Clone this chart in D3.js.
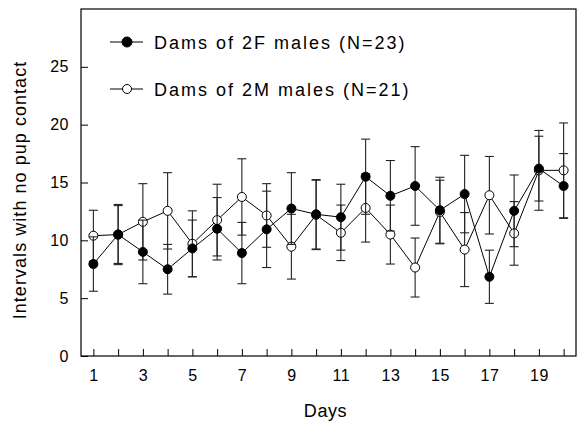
<!DOCTYPE html>
<html>
<head>
<meta charset="utf-8">
<script src="https://cdn.jsdelivr.net/npm/d3@7"></script>
<style>
    body { margin: 0; background: #fff; }
    text { font-family: "Liberation Sans", Arial, sans-serif; fill: #000; }
</style>
</head>
<body>
<svg id="chart" width="578" height="422"></svg>
<script>
// days on the x axis
var days = [1, 2, 3, 4, 5, 6, 7, 8, 9, 10, 11, 12, 13, 14, 15, 16, 17, 18, 19, 20];

// dams of 2F males, mean and error
var femMean = [7.95, 10.5, 9.0, 7.5, 9.3, 11.0, 8.9, 10.95, 12.75, 12.25, 12.0, 15.5, 13.85, 14.7, 12.6, 14.0, 6.85, 12.55, 16.2, 14.7];
var femErr = [2.35, 2.5, 2.75, 2.15, 2.45, 2.7, 2.65, 3.3, 3.1, 3.0, 2.85, 3.25, 3.05, 3.4, 2.85, 3.35, 2.3, 3.1, 2.8, 2.8];

// dams of 2M males, mean and error
var malMean = [10.4, 10.5, 11.6, 12.55, 9.7, 11.75, 13.75, 12.15, 9.45, 12.2, 10.65, 12.8, 10.5, 7.65, 12.45, 9.2, 13.9, 10.6, 16.05, 16.05];
var malErr = [2.2, 2.6, 3.3, 3.3, 2.85, 3.1, 3.3, 2.75, 2.8, 3.0, 2.4, 2.95, 2.55, 2.55, 2.75, 3.2, 3.35, 2.75, 3.45, 4.1];

var xTicks = [1, 3, 5, 7, 9, 11, 13, 15, 17, 19];
var yTicks = [0, 5, 10, 15, 20, 25];
var legendLabels = ["Dams of 2F males (N=23)", "Dams of 2M males (N=21)"];

var svg = d3.select("#chart");
var mLeft = 81, mRight = 576, mTop = 9, mBottom = 356;

var x = d3.scaleLinear().domain([0.5, 20.5]).range([mLeft, mRight]);
var y = d3.scaleLinear().domain([0, 30]).range([mBottom, mTop]);

// frame
svg.append("rect")
    .attr("x", mLeft)
    .attr("y", mTop)
    .attr("width", mRight - mLeft)
    .attr("height", mBottom - mTop)
    .attr("fill", "none")
    .attr("stroke", "#000")
    .attr("stroke-width", 1.2);

// axes, ticks point inward
var xAxis = svg.append("g")
    .attr("transform", "translate(0," + mBottom + ")")
    .call(d3.axisBottom(x).tickValues(days).tickSizeInner(-7).tickSizeOuter(0)
        .tickFormat(function (d) { return xTicks.indexOf(d) >= 0 ? d : ""; }));
xAxis.select(".domain").remove();
xAxis.selectAll("text").attr("y", 14).attr("dy", "0.71em")
    .style("font-size", "16px").attr("letter-spacing", "0.5px");

var yAxis = svg.append("g")
    .attr("transform", "translate(" + mLeft + ",0)")
    .call(d3.axisLeft(y).tickValues(yTicks).tickSizeInner(-7).tickSizeOuter(0));
yAxis.select(".domain").remove();
yAxis.selectAll("text").attr("x", -12)
    .style("font-size", "16px").attr("letter-spacing", "0.5px");
svg.selectAll(".tick line").attr("stroke", "#000");

// axis titles
svg.append("text")
    .attr("x", (mLeft + mRight) / 2 - 3)
    .attr("y", 417)
    .attr("text-anchor", "middle")
    .style("font-size", "18px")
    .attr("letter-spacing", "0.6px")
    .text("Days");

svg.append("text")
    .attr("transform", "translate(26," + 190 + ") rotate(-90)")
    .attr("text-anchor", "middle")
    .style("font-size", "18px")
    .attr("letter-spacing", "1.05px")
    .text("Intervals with no pup contact");

function drawSeries(means, errs, filled) {
    var g = svg.append("g");
    var line = d3.line()
        .x(function (d, i) { return x(days[i]); })
        .y(function (d) { return y(d); });

    // error bars
    for (var i = 0; i < means.length; i++) {
        var cx = x(days[i]);
        var y1 = y(means[i] - errs[i]);
        var y2 = y(means[i] + errs[i]);
        g.append("line").attr("x1", cx).attr("x2", cx).attr("y1", y1).attr("y2", y2)
            .attr("stroke", "#222").attr("stroke-width", 1.1);
        g.append("line").attr("x1", cx - 4.5).attr("x2", cx + 4.5).attr("y1", y1).attr("y2", y1)
            .attr("stroke", "#222").attr("stroke-width", 1.1);
        g.append("line").attr("x1", cx - 4.5).attr("x2", cx + 4.5).attr("y1", y2).attr("y2", y2)
            .attr("stroke", "#222").attr("stroke-width", 1.1);
    }

    g.append("path")
        .datum(means)
        .attr("d", line)
        .attr("fill", "none")
        .attr("stroke", "#000")
        .attr("stroke-width", 1);

    g.selectAll("circle")
        .data(means)
        .enter()
        .append("circle")
        .attr("cx", function (d, i) { return x(days[i]); })
        .attr("cy", function (d) { return y(d); })
        .attr("r", 4.5)
        .attr("fill", filled ? "#000" : "#fff")
        .attr("stroke", "#000")
        .attr("stroke-width", 1);
}

drawSeries(malMean, malErr, false);
drawSeries(femMean, femErr, true);

// legend
var legendY = [42, 89];
for (var k = 0; k < 2; k++) {
    svg.append("line")
        .attr("x1", 110).attr("x2", 143)
        .attr("y1", legendY[k]).attr("y2", legendY[k])
        .attr("stroke", "#000").attr("stroke-width", 1);
    svg.append("circle")
        .attr("cx", 127).attr("cy", legendY[k]).attr("r", k == 0 ? 5 : 4.5)
        .attr("fill", k == 0 ? "#000" : "#fff")
        .attr("stroke", "#000");
    svg.append("text")
        .attr("x", 154)
        .attr("y", legendY[k] + 6.5)
        .style("font-size", "18px")
        .attr("letter-spacing", "2px")
        .text(legendLabels[k]);
}
</script>
</body>
</html>
